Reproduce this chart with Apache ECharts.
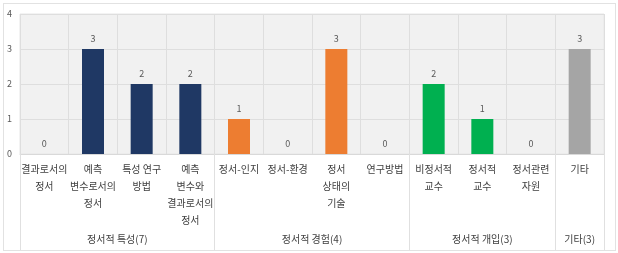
<!DOCTYPE html>
<html>
<head>
<meta charset="utf-8">
<script src="https://cdn.jsdelivr.net/npm/echarts@6/dist/echarts.min.js"></script>
<style>
	html,body{margin:0;padding:0;background:#fff;}
	#frame{position:absolute;left:3px;top:3px;width:611px;height:246px;border:1px solid #e2e2e2;}
	#chart{position:absolute;left:0;top:0;width:618px;height:253px;}
</style>
</head>
<body>
<div id="frame"></div>
<div id="chart"></div>
<script>
	// 카테고리 / 값
	var categories = ['결과로서의\n정서','예측\n변수로서의\n정서','특성 연구\n방법','예측\n변수와\n결과로서의\n정서',
		'정서-인지','정서-환경','정서\n상태의\n기술','연구방법',
		'비정서적\n교수','정서적\n교수','정서관련\n자원','기타'];
	var counts = [0,3,2,2, 1,0,3,0, 2,1,0, 3];
	var groupOf = [0,0,0,0, 1,1,1,1, 2,2,2, 3];
	var groupNames = ['정서적 특성(7)','정서적 경험(4)','정서적 개입(3)','기타(3)'];
	var groupCenters = [2,6,9.5,11.5];
	var groupEdges = [0,4,8,11,12];
	var groupColors = ['#1f3864','#ed7d31','#00b050','#a5a5a5'];
	var yTicks = [0,1,2,3,4];

	var font = '"Noto Sans CJK KR", "Noto Sans", sans-serif';
	var myChart = echarts.init(document.getElementById('chart'));

	var barData = [];
	counts.forEach(function(v,i) {
		barData.push({value:v, itemStyle:{color:groupColors[groupOf[i]]}});
	});

	myChart.setOption({
		animation:false,
		textStyle:{fontFamily:font},
		grid:{left:20,right:14,top:14,bottom:99,show:true,backgroundColor:'#f1f1f1',borderColor:'#e6e6e6',borderWidth:1},
		xAxis:[{
			type:'category',
			data:categories,
			axisLine:{show:true,lineStyle:{color:'#d9d9d9'}},
			axisTick:{show:false},
			splitLine:{show:true,lineStyle:{color:'#dedede'}},
			axisLabel:{interval:0,color:'#404040',fontSize:10,lineHeight:17,margin:7,fontFamily:font}
		},{
			type:'value',
			position:'bottom',
			min:0,max:12,
			axisLine:{show:false},
			splitLine:{show:false},
			axisTick:{show:true,customValues:groupEdges,length:96,lineStyle:{color:'#e0e0e0'}},
			axisLabel:{customValues:groupCenters,margin:80,color:'#404040',fontSize:10,fontFamily:font,
				formatter:function(v) {
					var idx = groupCenters.indexOf(v);
					return idx==-1 ? '' : groupNames[idx];
				}
			}
		}],
		yAxis:{
			type:'value',
			min:yTicks[0],max:yTicks[yTicks.length-1],interval:1,
			axisLine:{show:false},
			axisTick:{show:false},
			splitLine:{show:true,lineStyle:{color:'#dedede'}},
			axisLabel:{color:'#595959',fontSize:9,margin:8}
		},
		series:[{
			type:'bar',
			xAxisIndex:0,
			data:barData,
			barWidth:22,
			label:{show:true,position:'top',distance:6,color:'#595959',fontSize:9}
		}]
	});
</script>
</body>
</html>
